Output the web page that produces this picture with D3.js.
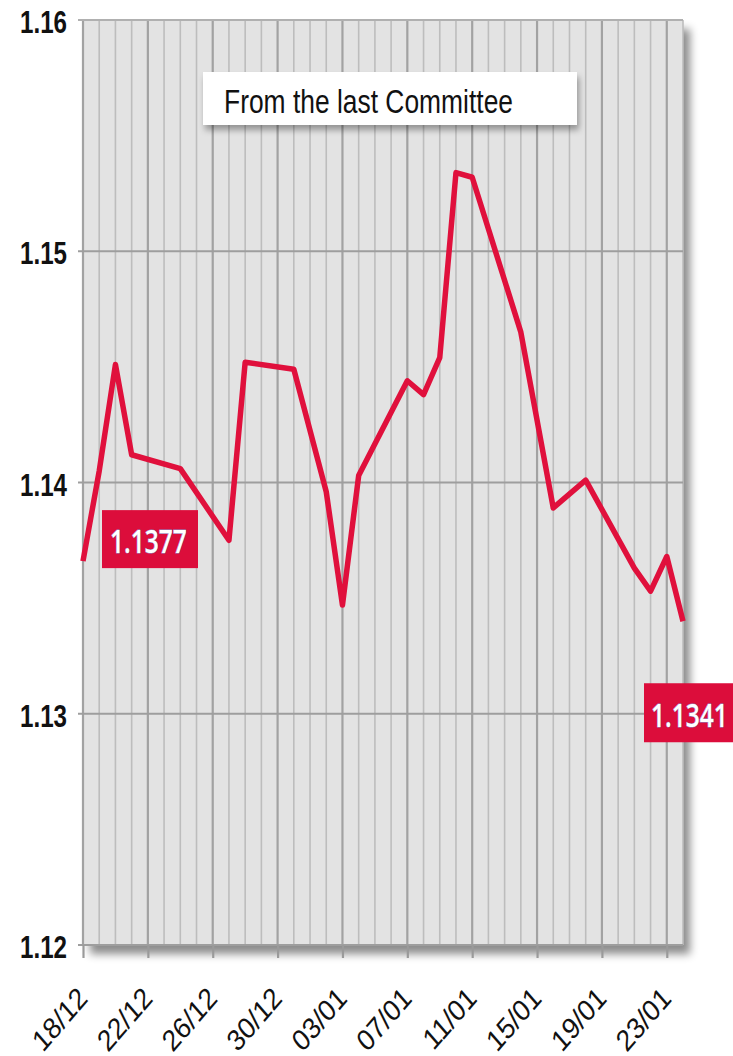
<!DOCTYPE html>
<html>
<head>
<meta charset="utf-8">
<script src="https://cdn.jsdelivr.net/npm/d3@7"></script>
<style>
  html, body { margin: 0; padding: 0; background: #ffffff; }
  svg { display: block; }
</style>
</head>
<body>
<div id="chart"></div>
<script>
// ---------- DATA ----------
const dates = ["2018-12-18","2018-12-19","2018-12-20","2018-12-21","2018-12-24","2018-12-27",
  "2018-12-28","2018-12-31","2019-01-02","2019-01-03","2019-01-04","2019-01-07","2019-01-08",
  "2019-01-09","2019-01-10","2019-01-11","2019-01-14","2019-01-16","2019-01-18","2019-01-21",
  "2019-01-22","2019-01-23","2019-01-24"];
const values = [1.1366,1.1405,1.1451,1.1412,1.1406,1.1375,
  1.1452,1.1449,1.1396,1.1347,1.1403,1.1444,1.1438,
  1.1454,1.1534,1.1532,1.1465,1.1389,1.1401,1.1363,
  1.1353,1.1368,1.1340];
const xDomain = ["2018-12-18","2019-01-24"];
const xTickDates = ["2018-12-18","2018-12-22","2018-12-26","2018-12-30","2019-01-03",
  "2019-01-07","2019-01-11","2019-01-15","2019-01-19","2019-01-23"];
const xTickLabels = ["18/12","22/12","26/12","30/12","03/01","07/01","11/01","15/01","19/01","23/01"];
const yTicks = [1.12, 1.13, 1.14, 1.15, 1.16];
const yTickLabels = ["1.12","1.13","1.14","1.15","1.16"];
const legendText = "From the last Committee";
const firstLabel = "1.1377";
const lastLabel = "1.1341";

// ---------- SETUP ----------
const W = 733, H = 1056;
const SY = 1.15; // vertical stretch of the source
const parse = d3.utcParse("%Y-%m-%d");
const data = dates.map((d, i) => ({date: parse(d), value: values[i]}));

const svg = d3.select("#chart").append("svg").attr("width", W).attr("height", H);
const defs = svg.append("defs");
const f = defs.append("filter").attr("id", "shadow").attr("x", "-10%").attr("y", "-10%").attr("width", "130%").attr("height", "130%");
f.append("feDropShadow").attr("dx", 7).attr("dy", 9).attr("stdDeviation", 4)
  .attr("flood-color", "#000").attr("flood-opacity", 0.45);
const f2 = defs.append("filter").attr("id", "shadow2").attr("x", "-10%").attr("y", "-30%").attr("width", "130%").attr("height", "180%");
f2.append("feDropShadow").attr("dx", 2).attr("dy", 5).attr("stdDeviation", 3)
  .attr("flood-color", "#000").attr("flood-opacity", 0.35);

const x = d3.scaleUtc().domain(xDomain.map(parse)).range([83, 683]);
const y = d3.scaleLinear().domain([1.12, 1.16]).range([945, 20]);

// plot background with shadow
svg.append("rect")
  .attr("x", x.range()[0]).attr("y", y(1.16))
  .attr("width", x.range()[1] - x.range()[0]).attr("height", y(1.12) - y(1.16))
  .attr("fill", "#e3e3e3").attr("filter", "url(#shadow)");

// vertical daily gridlines
const allDays = d3.utcDay.range(parse(xDomain[0]), d3.utcDay.offset(parse(xDomain[1]), 1));
const majorSet = new Set(xTickDates);
const fmtKey = d3.utcFormat("%Y-%m-%d");
svg.append("g").selectAll("line").data(allDays).join("line")
  .attr("x1", d => x(d)).attr("x2", d => x(d))
  .attr("y1", y(1.16)).attr("y2", y(1.12))
  .attr("stroke", d => majorSet.has(fmtKey(d)) ? "#a2a2a2" : "#bdbdbd")
  .attr("stroke-width", d => majorSet.has(fmtKey(d)) ? 2.2 : 1.6);

// horizontal gridlines
svg.append("g").selectAll("line").data(yTicks).join("line")
  .attr("x1", 78).attr("x2", x.range()[1])
  .attr("y1", d => y(d)).attr("y2", d => y(d))
  .attr("stroke", d => (d === 1.16) ? "#b0b0b0" : "#9e9e9e")
  .attr("stroke-width", 2.2);

// bottom axis ticks
const xAxis = d3.axisBottom(x).tickValues(xTickDates.map(parse)).tickSize(13).tickFormat("");
const gx = svg.append("g").attr("transform", `translate(0,${y(1.12)})`).call(xAxis);
gx.select(".domain").remove();
gx.selectAll(".tick line").attr("stroke", "#9a9a9a").attr("stroke-width", 2.2);

// x labels (rotated)
svg.append("g").selectAll("text").data(xTickDates).join("text")
  .attr("transform", (d) => `translate(${x(parse(d)) + 6},${1000}) scale(1,${SY}) rotate(-45)`)
  .attr("text-anchor", "end")
  .attr("font-family", "'Liberation Sans', Arial, sans-serif")
  .attr("font-size", 26)
  .attr("fill", "#111")
  .text((d, i) => xTickLabels[i]);

// y labels
svg.append("g").selectAll("text").data(yTicks).join("text")
  .attr("transform", d => `translate(67,${y(d) + 13}) scale(1,${SY})`)
  .attr("text-anchor", "end")
  .attr("font-family", "'Liberation Sans Narrow', 'Liberation Sans', Arial, sans-serif")
  .attr("font-weight", "bold")
  .attr("font-size", 28)
  .attr("textLength", 47).attr("lengthAdjust", "spacingAndGlyphs")
  .attr("fill", "#111")
  .text((d, i) => yTickLabels[i]);

// legend box
svg.append("rect").attr("x", 203).attr("y", 72).attr("width", 374).attr("height", 53)
  .attr("fill", "#ffffff").attr("filter", "url(#shadow2)");
svg.append("text")
  .attr("transform", `translate(224,113) scale(1,${SY})`)
  .attr("font-family", "'Liberation Sans Narrow', 'Liberation Sans', Arial, sans-serif")
  .attr("font-size", 29)
  .attr("textLength", 289).attr("lengthAdjust", "spacingAndGlyphs")
  .attr("fill", "#111")
  .text(legendText);

// the line
const line = d3.line().x(d => x(d.date)).y(d => y(d.value));
svg.append("path").datum(data)
  .attr("d", line)
  .attr("fill", "none")
  .attr("stroke", "#e0103c")
  .attr("stroke-width", 5.5)
  .attr("stroke-linejoin", "round");

// value labels
const labelColor = "#dc0d3b";
function valueLabel(bx, by, bw, bh, tx, ty, txt) {
  svg.append("rect").attr("x", bx).attr("y", by).attr("width", bw).attr("height", bh).attr("fill", labelColor);
  svg.append("text")
    .attr("transform", `translate(${tx},${ty}) scale(1,1.33)`)
    .attr("font-family", "'Open Sans', 'Liberation Sans', sans-serif")
    .attr("font-weight", 600)
    .attr("font-size", 24.5)
    .attr("fill", "#ffffff")
    .style("paint-order", "stroke")
    .attr("stroke", "#8a8fc8").attr("stroke-width", 0.7)
    .text(txt);
}
const p0 = data[0], pN = data[data.length - 1];
valueLabel(x(p0.date) + 19, y(p0.value) - 51, 96, 58, x(p0.date) + 27, y(p0.value) - 8, firstLabel);
valueLabel(x(pN.date) - 39, y(pN.value) + 62, 89, 59, x(pN.date) - 32, y(pN.value) + 106, lastLabel);
</script>
</body>
</html>
